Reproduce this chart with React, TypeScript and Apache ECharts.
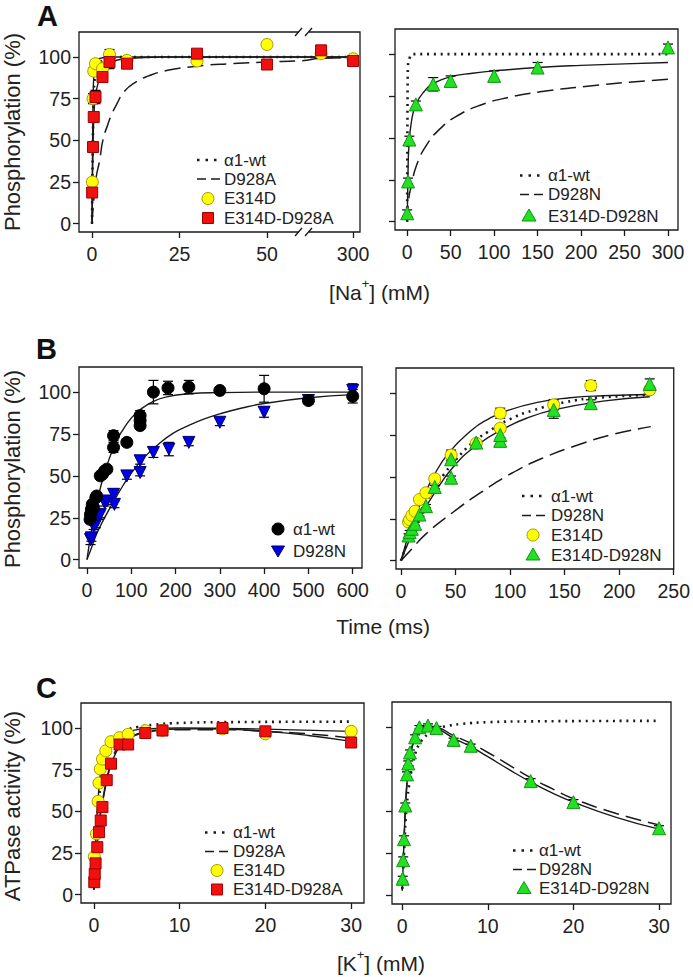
import React, { useEffect, useRef } from "react";
import * as echarts from "echarts";

// ---------------- Panel A : Na+ dependence of phosphorylation ----------------
// left panel (broken x axis)
const naE314D_x = [0.1, 0.3, 0.5, 1, 3, 5, 10, 30, 50, 150, 300];
const naE314D_y = [25, 75, 91.5, 96, 93, 101.5, 98, 97.6, 107.5, 102, 99];
const naE314D_err = [1.5, 3, 2, 2, 2, 3, 1.5, 1, 0, 0, 0];
const naE314DD928A_x = [0.05, 0.3, 0.5, 1, 3, 5, 10, 30, 50, 150, 300];
const naE314DD928A_y = [18.7, 46, 64, 76, 88, 97, 96, 102, 95.5, 104, 97.6];
const naE314DD928A_err = [2, 1.5, 2, 4, 2, 4, 2, 2, 2, 2, 1];
const naWtFit_x = [0, 0.1, 0.2, 0.5, 1, 2, 5, 10, 60, 150, 300];
const naWtFit_y = [0, 22, 40, 75, 90, 96, 99, 100, 100, 100, 100];
const naD928AFit_x = [0, 0.5, 1.2, 2.2, 3.1, 4.6, 5.5, 6.9, 9.3, 12.7, 16, 21, 30, 40, 50, 60, 150, 300];
const naD928AFit_y = [0, 14, 28, 38, 50, 60, 65, 71, 79.5, 85.2, 88.5, 91.7, 94.5, 96, 97, 97.8, 99.2, 99.6];
const naE314DFit_x = [0, 0.1, 0.2, 0.3, 0.5, 1, 2, 5, 60, 150, 300];
const naE314DFit_y = [0, 30, 55, 72, 88, 96, 99, 100, 100, 100, 100];
const naE314DD928AFit_x = [0, 0.1, 0.3, 0.5, 1, 2, 3, 5, 10, 20, 60, 150, 300];
const naE314DD928AFit_y = [0, 20, 45, 62, 77, 86, 91, 96, 99, 100, 100, 100, 100];
// right panel
const naE314DD928N_x = [0, 1, 2.5, 10, 30, 50, 100, 150, 300];
const naE314DD928N_y = [5, 24, 49, 70, 82, 84, 87, 92, 104];
const naE314DD928N_err = [2, 2, 2, 2, 4, 3, 3, 3, 2];
const naE314DD928NFit_x = [0, 1, 2, 5, 10, 20, 30, 50, 75, 100, 150, 200, 250, 300];
const naE314DD928NFit_y = [0, 30, 45, 60, 70, 78, 82.5, 86.5, 88.6, 90, 92, 93.3, 94.2, 95];
const naD928NFit_x = [0, 1.5, 5, 11, 22.6, 38, 57, 84, 115, 153, 210, 255, 300];
const naD928NFit_y = [0, 12.5, 22, 34, 46, 55.5, 63, 69.5, 74, 77.5, 81, 83.2, 85];
const naWtFitR_x = [0, 0.5, 1, 3, 6, 300];
const naWtFitR_y = [0, 80, 93, 98, 100, 100];

// ---------------- Panel B : time course ----------------
const tWt_x = [7, 8, 10, 12, 15, 20, 22, 30, 35, 40, 45, 60, 60, 90, 120, 120, 120, 150, 183, 230, 300, 400, 500, 600];
const tWt_y = [24, 27, 30, 33, 31, 37, 38, 50, 51, 53, 54, 67, 74, 70, 80, 83, 86, 100, 102.5, 103, 101, 102, 95, 97.5];
const tWt_err = [1, 1, 1, 1, 1, 2, 2, 1, 1, 2, 1, 3, 3, 2, 2, 2, 3, 7, 4, 4, 1, 8, 2, 4];
const tD928N_x = [8, 10, 15, 20, 25, 30, 40, 45, 60, 62, 90, 120, 120, 150, 185, 230, 300, 400, 500, 600];
const tD928N_y = [12, 13, 20, 21, 26, 27, 34, 35, 39, 33, 50, 52, 59, 64, 66, 70, 82, 88, 95, 101];
const tD928N_err = [3, 2, 2, 2, 2, 2, 2, 2, 3, 2, 2, 2, 2, 3, 4, 2, 2, 3, 2, 4];
const tWtFit_x = [0, 10, 20, 30, 40, 50, 65, 80, 100, 120, 150, 180, 230, 300, 400, 600];
const tWtFit_y = [0, 17, 31, 42.5, 52, 60, 70, 77, 84.5, 89.5, 94.5, 97.2, 99, 99.7, 100, 100];
const tD928NFit_x = [0, 10, 23, 47, 74, 101, 131, 162, 195, 229, 265, 300, 350, 400, 500, 600];
const tD928NFit_y = [0, 7, 16, 28.5, 41, 52, 61.5, 69, 75.5, 80, 84, 87, 90.5, 93.2, 96.6, 98.5];
const tE314D_x = [7, 8, 10, 13, 17, 23, 31, 46, 69, 91, 91, 140, 174, 228];
const tE314D_y = [23, 24.5, 27, 29.5, 36.5, 40.5, 48.8, 63, 70, 88, 79, 93, 104.5, 102];
const tE314D_err = [1, 1, 1, 1, 1, 1, 2, 3, 1, 3, 2, 3, 3, 2];
const tE314DD928N_x = [7, 8, 10, 13, 17, 23, 31, 46, 46, 69, 91, 91, 140, 174, 228];
const tE314DD928N_y = [15, 17, 19, 22, 27.5, 32.5, 44, 49.5, 60.5, 70.5, 71.5, 75, 90, 94, 105.5];
const tE314DD928N_err = [1, 1, 1, 1, 1, 1, 1, 1, 2, 1, 2, 2, 5, 2, 3];
const tE314DFit_x = [0, 10, 20, 30, 44, 65, 80, 95, 125, 155, 185, 228];
const tE314DFit_y = [0, 21, 37, 50.5, 64.5, 78, 84.5, 89, 94.5, 97.2, 98.4, 99.2];
const tE314DD928NFit_x = [0, 10, 20, 30, 48.7, 71, 95, 115, 140, 185, 228];
const tE314DD928NFit_y = [0, 15.5, 28.5, 39.5, 56.5, 69.5, 79, 85, 90, 95.2, 97.8];

// ---------------- Panel C : K+ dependence of ATPase activity ----------------
const kE314D_x = [0.05, 0.3, 0.5, 0.6, 0.75, 1, 1.4, 2, 3, 4, 6, 8, 15, 20, 30];
const kE314D_y = [22.8, 36.5, 56, 67, 75.4, 81.3, 86.3, 91.8, 94.2, 96.2, 98.4, 98.6, 99.5, 96.5, 98];
const kE314DD928A_x = [0.05, 0.1, 0.2, 0.4, 0.6, 0.8, 1, 1.5, 2, 3, 4, 6, 8, 15, 20, 30];
const kE314DD928A_y = [7.5, 12.5, 18.8, 28.5, 37.5, 44.5, 52.6, 68.7, 78.6, 90.1, 90.1, 97, 98.5, 100, 98, 91.3];
const kE314DD928N_x = [0.05, 0.1, 0.2, 0.35, 0.55, 0.7, 0.9, 1.5, 2, 3, 4, 6, 8, 15, 20, 30];
const kE314DD928N_y = [10, 21, 33.5, 53.5, 72, 78.5, 85, 94, 100, 101, 99.5, 92.5, 89, 68, 55.5, 40];
const kE314DD928N_err = [1.5, 2, 2, 1.5, 1.5, 1.5, 1.5, 1.5, 1, 1, 1, 1, 1, 1.5, 1.5, 1.5];
const kWtFit_x = [0, 0.25, 0.5, 1, 1.5, 2, 3, 4, 5, 7, 10, 15, 30];
const kWtFit_y = [4, 30, 52, 72, 84, 90, 96, 99, 100.5, 102, 103, 103.5, 103.8];
const kE314DFit_x = [0, 0.1, 0.25, 0.5, 0.75, 1, 1.5, 2, 3, 4, 6, 10, 15, 20, 30];
const kE314DFit_y = [3, 18, 38, 58, 72, 80, 88, 92, 96, 98, 99.5, 100, 99.8, 99.3, 98];
const kE314DD928AFit_x = [0, 0.25, 0.5, 0.75, 1, 1.5, 2, 3, 4, 6, 8, 12, 15, 20, 25, 30];
const kE314DD928AFit_y = [3, 20, 36, 47, 55, 68, 78, 89, 93.5, 97.5, 99, 99.5, 99.3, 98, 95.5, 92];
const kD928AFit_x = [0, 0.5, 1, 2, 3, 4, 6, 10, 15, 20, 25, 30];
const kD928AFit_y = [3, 38, 56, 79, 90, 94, 97.5, 99, 99, 98, 96.5, 94];
const kE314DD928NFit_x = [0, 0.1, 0.2, 0.35, 0.6, 0.9, 1.5, 2, 3, 4, 6, 8, 10, 12.5, 15, 17.5, 20, 25, 30];
const kE314DD928NFit_y = [3, 18, 32, 50, 70, 83, 94, 98.5, 100.5, 99.5, 93.5, 88.5, 82.5, 74.8, 67.5, 61, 55.5, 46.5, 39.5];
const kD928NFit_x = [0, 0.1, 0.2, 0.35, 0.6, 0.9, 1.5, 2, 3, 4, 6, 8, 10, 12.5, 15, 17.5, 20, 25, 30];
const kD928NFit_y = [3, 18, 32, 50, 70, 83, 94, 98.5, 100.5, 100, 95, 90.5, 85, 77.5, 70, 63.5, 57.5, 48.8, 42];

// tick labels
const yTicks = [0, 25, 50, 75, 100];
const naLeftTicks = [0, 25, 50, 300];
const naRightTicks = [0, 50, 100, 150, 200, 250, 300];
const tLeftTicks = [0, 100, 200, 300, 400, 500, 600];
const tRightTicks = [0, 50, 100, 150, 200, 250];
const kTicks = [0, 10, 20, 30];

const FONT = "'Liberation Sans', Arial, Helvetica, sans-serif";
const INK = "#1a1a1a";

// broken axis mapping for panel A left: linear up to 60 mM, compressed after the break
function naPos(x: number) {
  return x <= 60 ? x : 62.4 + (x - 100) * 0.061;
}

const pairs = (xs: number[], ys: number[], f: (v: number) => number = (v) => v) =>
  xs.map((x, i) => [f(x), ys[i]]);
const triples = (xs: number[], ys: number[], es: number[], f: (v: number) => number = (v) => v) =>
  xs.map((x, i) => [f(x), ys[i], es[i]]);

const SOLID = { color: INK, width: 1.4, type: "solid" };
const DOT = { color: INK, width: 2.6, type: [2, 4.8], cap: "butt" };
const DASH = { color: INK, width: 1.5, type: [16, 7] };

const YEL = { symbol: "circle", size: 12, fill: "#FFFF00", stroke: "#A89A00" };
const RED = { symbol: "rect", size: 11, fill: "#F01010", stroke: "#A00000" };
const GRN = { symbol: "triangle", size: 13, fill: "#22E022", stroke: "#149414" };
const BLK = { symbol: "circle", size: 12, fill: "#000000", stroke: "#000000" };
const BLU = { symbol: "triangle", size: 12, fill: "#0000E6", stroke: "#000070", rotate: 180 };

function curve(idx: number, data: number[][], style: any) {
  return {
    type: "line",
    xAxisIndex: idx,
    yAxisIndex: idx,
    data,
    showSymbol: false,
    symbol: "none",
    smooth: 0.5,
    lineStyle: style,
    z: 2,
    silent: true,
  };
}

function pts(idx: number, data: number[][], s: any) {
  return {
    type: "scatter",
    xAxisIndex: idx,
    yAxisIndex: idx,
    data,
    symbol: s.symbol,
    symbolSize: s.size,
    symbolRotate: s.rotate || 0,
    itemStyle: { color: s.fill, borderColor: s.stroke, borderWidth: 1, opacity: 1 },
    z: 4,
    silent: true,
  };
}

function errs(idx: number, data: number[][]) {
  return {
    type: "custom",
    xAxisIndex: idx,
    yAxisIndex: idx,
    data,
    encode: { x: 0, y: 1 },
    z: 3,
    silent: true,
    renderItem: (_p: any, api: any) => {
      const x = api.value(0);
      const y = api.value(1);
      const e = api.value(2);
      if (!e) return { type: "group", children: [] };
      const a = api.coord([x, y + e]);
      const b = api.coord([x, y - e]);
      const w = 5;
      const st = { stroke: "#000", lineWidth: 1.2 };
      return {
        type: "group",
        children: [
          { type: "line", shape: { x1: a[0], y1: a[1], x2: b[0], y2: b[1] }, style: st },
          { type: "line", shape: { x1: a[0] - w, y1: a[1], x2: a[0] + w, y2: a[1] }, style: st },
          { type: "line", shape: { x1: b[0] - w, y1: b[1], x2: b[0] + w, y2: b[1] }, style: st },
        ],
      };
    },
  };
}

const grids = [
  { left: 79, top: 32, width: 281, height: 200 },
  { left: 395, top: 29, width: 283, height: 201 },
  { left: 79, top: 367, width: 283, height: 201 },
  { left: 396, top: 368, width: 282, height: 201 },
  { left: 81, top: 703, width: 283, height: 200 },
  { left: 392, top: 702, width: 279, height: 202 },
];

const xSpecs = [
  { min: -3.71, max: 76.57, ticks: naLeftTicks.map(naPos), labels: (v: number) => (v > 70 ? "300" : String(Math.round(v))) },
  { min: -14, max: 311.5, ticks: naRightTicks },
  { min: -18, max: 621, ticks: tLeftTicks },
  { min: -4.5, max: 250, ticks: tRightTicks },
  { min: -1.5, max: 31.5, ticks: kTicks },
  { min: -1.2, max: 31.4, ticks: kTicks },
];

function buildOption() {
  const tickStyle = { color: INK, width: 1.3 };
  const labelBase = { fontSize: 19.5, fontFamily: FONT, color: "#222" };

  const xAxis = xSpecs.map((s: any, i) => ({
    type: "value",
    gridIndex: i,
    min: s.min,
    max: s.max,
    axisLine: { show: false, onZero: false },
    splitLine: { show: false },
    axisTick: { show: true, inside: false, length: 6, lineStyle: tickStyle, customValues: s.ticks },
    axisLabel: {
      show: true,
      customValues: s.ticks,
      margin: 12,
      ...labelBase,
      formatter: s.labels ? s.labels : (v: number) => String(v),
    },
  }));

  const yAxis = grids.map((_g, i) => ({
    type: "value",
    gridIndex: i,
    min: -5,
    max: 115,
    axisLine: { show: false, onZero: false },
    splitLine: { show: false },
    axisTick: { show: true, inside: false, length: 6, lineStyle: tickStyle, customValues: yTicks },
    axisLabel: { show: i % 2 === 0, customValues: yTicks, margin: 8, ...labelBase },
  }));

  const series: any[] = [
    // A left
    curve(0, pairs(naWtFit_x, naWtFit_y, naPos), DOT),
    curve(0, pairs(naD928AFit_x, naD928AFit_y, naPos), DASH),
    curve(0, pairs(naE314DFit_x, naE314DFit_y, naPos), SOLID),
    curve(0, pairs(naE314DD928AFit_x, naE314DD928AFit_y, naPos), SOLID),
    errs(0, triples(naE314D_x, naE314D_y, naE314D_err, naPos)),
    errs(0, triples(naE314DD928A_x, naE314DD928A_y, naE314DD928A_err, naPos)),
    pts(0, pairs(naE314D_x, naE314D_y, naPos), YEL),
    pts(0, pairs(naE314DD928A_x, naE314DD928A_y, naPos), RED),
    // A right
    curve(1, pairs(naWtFitR_x, naWtFitR_y), DOT),
    curve(1, pairs(naD928NFit_x, naD928NFit_y), DASH),
    curve(1, pairs(naE314DD928NFit_x, naE314DD928NFit_y), SOLID),
    errs(1, triples(naE314DD928N_x, naE314DD928N_y, naE314DD928N_err)),
    pts(1, pairs(naE314DD928N_x, naE314DD928N_y), GRN),
    // B left
    curve(2, pairs(tWtFit_x, tWtFit_y), SOLID),
    curve(2, pairs(tD928NFit_x, tD928NFit_y), SOLID),
    errs(2, triples(tWt_x, tWt_y, tWt_err)),
    errs(2, triples(tD928N_x, tD928N_y, tD928N_err)),
    pts(2, pairs(tD928N_x, tD928N_y), BLU),
    pts(2, pairs(tWt_x, tWt_y), BLK),
    // B right
    curve(3, pairs(tWtFit_x, tWtFit_y).filter((p) => p[0] <= 230), DOT),
    curve(3, pairs(tD928NFit_x, tD928NFit_y).filter((p) => p[0] <= 230), DASH),
    curve(3, pairs(tE314DFit_x, tE314DFit_y), SOLID),
    curve(3, pairs(tE314DD928NFit_x, tE314DD928NFit_y), SOLID),
    errs(3, triples(tE314D_x, tE314D_y, tE314D_err)),
    errs(3, triples(tE314DD928N_x, tE314DD928N_y, tE314DD928N_err)),
    pts(3, pairs(tE314D_x, tE314D_y), YEL),
    pts(3, pairs(tE314DD928N_x, tE314DD928N_y), GRN),
    // C left
    curve(4, pairs(kWtFit_x, kWtFit_y), DOT),
    curve(4, pairs(kD928AFit_x, kD928AFit_y), DASH),
    curve(4, pairs(kE314DFit_x, kE314DFit_y), SOLID),
    curve(4, pairs(kE314DD928AFit_x, kE314DD928AFit_y), SOLID),
    pts(4, pairs(kE314D_x, kE314D_y), YEL),
    pts(4, pairs(kE314DD928A_x, kE314DD928A_y), RED),
    // C right
    curve(5, pairs(kWtFit_x, kWtFit_y), DOT),
    curve(5, pairs(kD928NFit_x, kD928NFit_y), DASH),
    curve(5, pairs(kE314DD928NFit_x, kE314DD928NFit_y), SOLID),
    errs(5, triples(kE314DD928N_x, kE314DD928N_y, kE314DD928N_err)),
    pts(5, pairs(kE314DD928N_x, kE314DD928N_y), GRN),
  ];

  // ---------- graphic overlays ----------
  const G: any[] = [];
  const text = (x: number, y: number, t: string, extra: any = {}, rot = 0) =>
    G.push({
      type: "text",
      x,
      y,
      rotation: rot,
      z: 100,
      silent: true,
      style: { text: t, fontFamily: FONT, fontSize: 17, lineHeight: 15, fill: "#222", align: "left", verticalAlign: "middle", ...extra },
    });

  // panel letters
  text(37, 16, "A", { fontSize: 29, lineHeight: 30, fontWeight: "bold", fill: "#111" });
  text(36, 349, "B", { fontSize: 29, lineHeight: 30, fontWeight: "bold", fill: "#111" });
  text(36, 688, "C", { fontSize: 29, lineHeight: 30, fontWeight: "bold", fill: "#111" });

  // y titles
  text(12, 132, "Phosphorylation (%)", { fontSize: 22, lineHeight: 22, align: "center" }, Math.PI / 2);
  text(12, 469, "Phosphorylation (%)", { fontSize: 22, lineHeight: 22, align: "center" }, Math.PI / 2);
  text(12, 806, "ATPase activity (%)", { fontSize: 22, lineHeight: 22, align: "center" }, Math.PI / 2);

  // x titles (rich text for superscripts)
  const rich = {
    a: { fontSize: 21, fontFamily: FONT, fill: "#222", lineHeight: 26, verticalAlign: "bottom" },
    s: { fontSize: 13, fontFamily: FONT, fill: "#222", lineHeight: 26, verticalAlign: "top" },
  };
  G.push({
    type: "text", x: 430, y: 290, z: 100, silent: true,
    style: { text: "{a|[Na}{s|+}{a|] (mM)}", rich, align: "right", verticalAlign: "middle" },
  });
  text(430, 626, "Time (ms)", { fontSize: 21, lineHeight: 22, align: "right" });
  G.push({
    type: "text", x: 425, y: 961, z: 100, silent: true,
    style: { text: "{a|[K}{s|+}{a|] (mM)}", rich, align: "right", verticalAlign: "middle" },
  });

  // axis break marks on panel A left
  const brk = (y: number) => {
    G.push({ type: "rect", z: 90, silent: true, shape: { x: 299, y: y - 3, width: 10, height: 6 }, style: { fill: "#fff" } });
    G.push({ type: "line", z: 91, silent: true, shape: { x1: 295, y1: y + 4, x2: 302, y2: y - 4 }, style: { stroke: INK, lineWidth: 1.3 } });
    G.push({ type: "line", z: 91, silent: true, shape: { x1: 305, y1: y + 4, x2: 312, y2: y - 4 }, style: { stroke: INK, lineWidth: 1.3 } });
  };
  brk(32);
  brk(232);

  // legends
  const sample = (kind: string, x0: number, x1: number, xm: number, y: number) => {
    if (kind === "dot") {
      G.push({ type: "line", z: 100, silent: true, shape: { x1: x0, y1: y, x2: x1, y2: y }, style: { stroke: INK, lineWidth: 2.6, lineDash: [2.5, 6] } });
    } else if (kind === "dash") {
      G.push({ type: "line", z: 100, silent: true, shape: { x1: x0, y1: y, x2: x1, y2: y }, style: { stroke: INK, lineWidth: 1.5, lineDash: [9, 5] } });
    } else if (kind === "yc" || kind === "bc") {
      const s = kind === "yc" ? YEL : BLK;
      G.push({ type: "circle", z: 100, silent: true, shape: { cx: xm, cy: y, r: 6 }, style: { fill: s.fill, stroke: s.stroke, lineWidth: 1 } });
    } else if (kind === "rs") {
      G.push({ type: "rect", z: 100, silent: true, shape: { x: xm - 5.5, y: y - 5.5, width: 11, height: 11 }, style: { fill: RED.fill, stroke: RED.stroke, lineWidth: 1 } });
    } else if (kind === "gt") {
      G.push({ type: "polygon", z: 100, silent: true, shape: { points: [[xm, y - 7], [xm - 7, y + 5], [xm + 7, y + 5]] }, style: { fill: GRN.fill, stroke: GRN.stroke, lineWidth: 1 } });
    } else if (kind === "bt") {
      G.push({ type: "polygon", z: 100, silent: true, shape: { points: [[xm, y + 6], [xm - 6.5, y - 5], [xm + 6.5, y - 5]] }, style: { fill: BLU.fill, stroke: BLU.stroke, lineWidth: 1 } });
    }
  };
  const legend = (x0: number, x1: number, xm: number, xt: number, rows: [number, string, string][]) => {
    rows.forEach(([y, kind, label]) => {
      sample(kind, x0, x1, xm, y);
      text(xt, y, label);
    });
  };
  legend(197, 220, 208, 224, [
    [160, "dot", "α1-wt"],
    [179, "dash", "D928A"],
    [198.5, "yc", "E314D"],
    [218, "rs", "E314D-D928A"],
  ]);
  legend(520, 543, 529, 548, [
    [175.5, "dot", "α1-wt"],
    [194.5, "dash", "D928N"],
    [216, "gt", "E314D-D928N"],
  ]);
  legend(270, 286, 278, 293, [
    [529, "bc", "α1-wt"],
    [551, "bt", "D928N"],
  ]);
  legend(522, 546, 533, 551, [
    [496, "dot", "α1-wt"],
    [515.5, "dash", "D928N"],
    [535, "yc", "E314D"],
    [555, "gt", "E314D-D928N"],
  ]);
  legend(205, 230, 217, 233, [
    [832.5, "dot", "α1-wt"],
    [851.5, "dash", "D928A"],
    [870.5, "yc", "E314D"],
    [889.5, "rs", "E314D-D928A"],
  ]);
  legend(513, 537, 524, 539, [
    [850.5, "dot", "α1-wt"],
    [869.5, "dash", "D928N"],
    [888.5, "gt", "E314D-D928N"],
  ]);

  return {
    animation: false,
    backgroundColor: "#ffffff",
    textStyle: { fontFamily: FONT },
    grid: grids.map((g) => ({ ...g, show: true, borderColor: INK, borderWidth: 1.3, backgroundColor: "transparent", containLabel: false })),
    xAxis,
    yAxis,
    series,
    graphic: G,
  };
}

export default function App() {
  const ref = useRef<HTMLDivElement | null>(null);
  useEffect(() => {
    document.body.style.margin = "0";
    const chart = echarts.init(ref.current as HTMLDivElement, null, { renderer: "svg" });
    chart.setOption(buildOption() as any);
    return () => chart.dispose();
  }, []);
  return (
    <div
      ref={ref}
      style={{ position: "absolute", left: 0, top: 0, width: 693, height: 977, background: "#fff" }}
    />
  );
}
